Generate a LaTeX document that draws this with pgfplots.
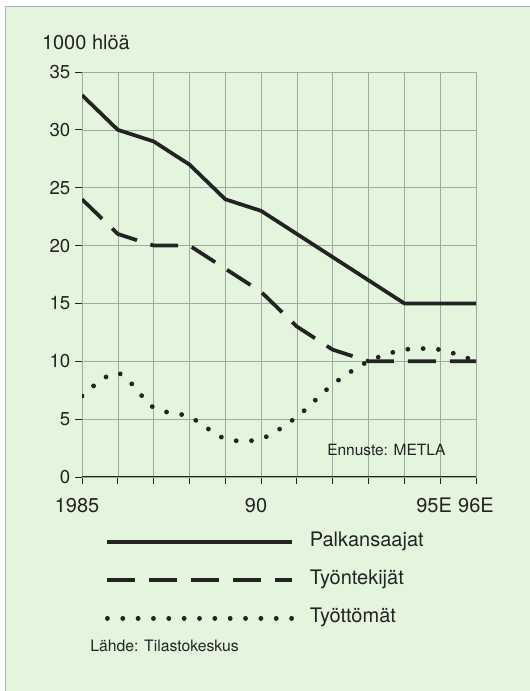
\documentclass[border=0pt]{standalone}
\usepackage{fontspec}
\setmainfont{TeX Gyre Heros}
\usepackage{pgfplots}
\pgfplotsset{compat=1.18}
\definecolor{bg}{RGB}{228,245,222}
\definecolor{ink}{RGB}{35,35,35}
\definecolor{gridc}{RGB}{160,170,160}
\begin{document}
\begin{tikzpicture}
\useasboundingbox (0pt,0pt) rectangle (397.5pt,518.25pt);
\fill[white] (0pt,0pt) rectangle (397.5pt,518.25pt);
\fill[bg] (3.75pt,0pt) rectangle (397.5pt,513.75pt);
\draw[gray!60, line width=0.6pt] (3.75pt,0pt) -- (3.75pt,513.75pt) -- (397.5pt,513.75pt);
\begin{axis}[
  at={(61.5pt,160.5pt)}, anchor=south west,
  scale only axis, width=295.5pt, height=303.75pt,
  xmin=1985, xmax=1996, ymin=0, ymax=35,
  xtick={1985,...,1996},
  xticklabels={1985\hspace*{7.5pt},,,,,90\hspace*{7.5pt},,,,,95E\hspace*{9pt},96E},
  ytick={0,5,...,35},
  grid=major,
  major grid style={gridc, line width=0.4pt},
  axis line style={gridc, line width=0.6pt},
  tick align=outside,
  tick pos=left,
  major tick length=5.25pt,
  tick style={ink, line width=0.6pt},
  yticklabel style={font=\fontsize{14}{16}\selectfont, text=ink},
  xticklabel style={font=\fontsize{15}{17}\selectfont, text=ink, yshift=-7pt},
  /pgf/number format/assume math mode=true,
  legend style={at={(0.05838,-0.1366)}, anchor=north west, draw=none, fill=none,
    inner sep=0pt, outer sep=0pt, row sep=14pt, column sep=11.25pt,
    font=\fontsize{15}{18}\selectfont, text=ink,
    nodes={inner sep=0pt, outer sep=0pt, text height=11pt, text depth=3.5pt, anchor=base west}},
  legend cell align=left,
  legend image code/.code={\draw[#1] (0pt,3.6pt) -- (138.75pt,3.6pt);},
]
\addplot[ink, line width=2.8pt, line join=round] coordinates {(1985,33)(1986,30)(1987,29)(1988,27)(1989,24)(1990,23)(1991,21)(1992,19)(1993,17)(1994,15)(1995,15)(1996,15)};
\addlegendentry{Palkansaajat}
\addplot[ink, line width=2.8pt, line join=round, dash pattern=on 21pt off 10.5pt] coordinates {(1985,24)(1986,21)(1987,20)(1988,20)(1989,18)(1990,16)(1991,13)(1992,11)(1993,10)(1994,10)(1995,10)(1996,10)};
\addlegendentry{Työntekijät}
\addplot[ink, line width=3.6pt, line cap=round, dash pattern=on 0.01pt off 11.5pt, smooth] coordinates {(1985,7)(1986,9)(1987,6)(1988,5.2)(1989,3.3)(1990,3.3)(1991,5.2)(1992,8)(1993,10)(1994,11)(1995,11)(1996,10)};
\addlegendentry{Työttömät}
\draw[ink, line width=1.1pt] (rel axis cs:0,0) -- (rel axis cs:1,0);
\end{axis}
\node[anchor=base west, font=\fontsize{15}{18}\selectfont, text=ink, inner sep=0pt] at (31.3pt,481.1pt) {1000 hlöä};
\node[anchor=base west, font=\fontsize{11.6}{14}\selectfont, text=ink, inner sep=0pt] at (245.25pt,176.25pt) {Ennuste: METLA};
\node[anchor=base west, font=\fontsize{11.8}{14}\selectfont, text=ink, inner sep=0pt] at (67.5pt,29.25pt) {Lähde: Tilastokeskus};
\end{tikzpicture}
\end{document}
